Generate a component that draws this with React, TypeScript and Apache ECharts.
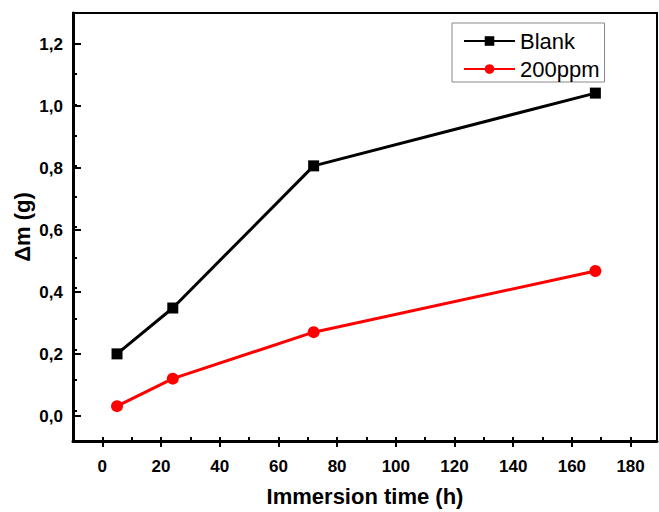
import React, { useEffect, useRef } from "react";
import * as echarts from "echarts";

const timeHours = [5, 24, 72, 168];
const blankValues = [0.185, 0.335, 0.8, 1.038];
const ppm200Values = [0.014, 0.104, 0.256, 0.456];
const seriesNames = ["Blank", "200ppm"];

const FONT = "'Liberation Sans', Arial, Helvetica, sans-serif";

export default function App() {
  const ref = useRef<HTMLDivElement>(null);

  useEffect(() => {
    if (!ref.current) return;
    const chart = echarts.init(ref.current, null, { renderer: "svg" });

    // main grid geometry (pixels)
    const gL = 73, gT = 13, gW = 584, gH = 434;
    const xMin = -10, xMax = 189, yMin = -0.1, yMax = 1.3;
    const pxPerX = gW / (xMax - xMin);
    const pxPerY = gH / (yMax - yMin);

    const labelStyle = {
      color: "#000",
      fontFamily: FONT,
      fontWeight: "bold" as const,
      fontSize: 17,
    };

    const option: any = {
      animation: false,
      backgroundColor: "#fff",
      grid: [
        {
          left: gL, top: gT, width: gW, height: gH,
          show: true, borderColor: "#000", borderWidth: 2, backgroundColor: "transparent",
        },
        {
          left: gL + (0 - xMin) * pxPerX,
          width: (180 - 0) * pxPerX,
          top: gT, height: gH,
        },
        {
          left: gL, width: gW,
          top: gT + (yMax - 1.2) * pxPerY,
          height: 1.2 * pxPerY,
        },
      ],
      xAxis: [
        {
          gridIndex: 0, type: "value", min: xMin, max: xMax, interval: 10,
          axisLine: { show: true, onZero: false, lineStyle: { color: "#000", width: 3 } },
          axisTick: { show: true, inside: true, length: 4, lineStyle: { color: "#000", width: 2 } },
          axisLabel: { show: false },
          splitLine: { show: false },
          name: "Immersion time (h)",
          nameLocation: "middle",
          nameGap: 44,
          nameTextStyle: { color: "#000", fontFamily: FONT, fontWeight: "bold", fontSize: 22 },
        },
        {
          gridIndex: 1, type: "value", min: 0, max: 180, interval: 20,
          axisLine: { show: false, onZero: false },
          axisTick: { show: true, inside: true, length: 8, lineStyle: { color: "#000", width: 2 } },
          axisLabel: { ...labelStyle, margin: 11, showMinLabel: true, showMaxLabel: true },
          splitLine: { show: false },
        },
        { gridIndex: 2, type: "value", show: false, min: 0, max: 1 },
      ],
      yAxis: [
        {
          gridIndex: 0, type: "value", min: yMin, max: yMax, interval: 0.1,
          axisLine: { show: true, onZero: false, lineStyle: { color: "#000", width: 3 } },
          axisTick: { show: true, inside: true, length: 4, lineStyle: { color: "#000", width: 2 } },
          axisLabel: { show: false },
          splitLine: { show: false },
          name: "\u0394m (g)",
          nameLocation: "middle",
          nameGap: 40,
          nameRotate: 90,
          nameTextStyle: { color: "#000", fontFamily: FONT, fontWeight: "bold", fontSize: 22 },
        },
        { gridIndex: 1, type: "value", show: false, min: 0, max: 1 },
        {
          gridIndex: 2, type: "value", min: 0, max: 1.2, interval: 0.2,
          axisLine: { show: false, onZero: false },
          axisTick: { show: true, inside: true, length: 8, lineStyle: { color: "#000", width: 2 } },
          axisLabel: {
            ...labelStyle, margin: 10, showMinLabel: true, showMaxLabel: true,
            formatter: (v: number) => v.toFixed(1).replace(".", ","),
          },
          splitLine: { show: false },
        },
      ],
      legend: {
        data: seriesNames,
        orient: "vertical",
        left: 452,
        top: 23,
        borderColor: "#8a8a8a",
        borderWidth: 1,
        padding: [5, 5, 0, 11],
        itemWidth: 51,
        itemHeight: 12,
        itemGap: 2,
        textStyle: { color: "#000", fontFamily: FONT, fontSize: 22, lineHeight: 26 },
      },
      series: [
        {
          name: seriesNames[0],
          type: "line",
          xAxisIndex: 0, yAxisIndex: 0,
          data: timeHours.map((t, i) => [t, blankValues[i]]),
          symbol: "rect",
          symbolSize: 11,
          lineStyle: { color: "#000", width: 3 },
          itemStyle: { color: "#000" },
        },
        {
          name: seriesNames[1],
          type: "line",
          xAxisIndex: 0, yAxisIndex: 0,
          data: timeHours.map((t, i) => [t, ppm200Values[i]]),
          symbol: "circle",
          symbolSize: 12,
          lineStyle: { color: "#ff0000", width: 3 },
          itemStyle: { color: "#ff0000" },
        },
      ],
    };

    chart.setOption(option);
    return () => chart.dispose();
  }, []);

  return (
    <div
      ref={ref}
      style={{ position: "absolute", left: 0, top: 0, width: 659, height: 512 }}
    />
  );
}
